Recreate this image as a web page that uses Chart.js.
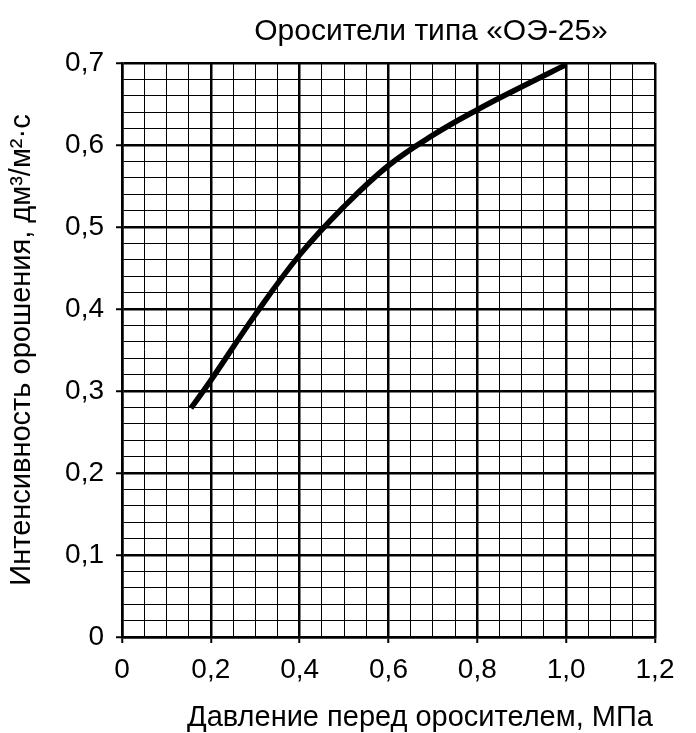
<!DOCTYPE html>
<html>
<head>
<meta charset="utf-8">
<script src="https://cdn.jsdelivr.net/npm/chart.js@4"></script>
<style>
  body { margin: 0; background: #fff; }
  canvas { display: block; }
</style>
</head>
<body>
<canvas id="chart-oe25" width="696" height="733"></canvas>
<script>
// Оросители типа «ОЭ-25» — интенсивность орошения от давления

const davlenie = [0.155, 0.2, 0.3, 0.4, 0.5, 0.6, 0.7, 0.8, 0.9, 1.0];
const intensivnost = [0.279, 0.313, 0.393, 0.466, 0.525, 0.575, 0.612, 0.643, 0.671, 0.698];

const xTickLabels = ['0', '0,2', '0,4', '0,6', '0,8', '1,0', '1,2'];
const yTickLabels = ['0', '0,1', '0,2', '0,3', '0,4', '0,5', '0,6', '0,7'];

const FONT = "'Liberation Sans', Arial, sans-serif";

function majorIndex(v, step) {
  const i = Math.round(v / step);
  return Math.abs(v - i * step) < 1e-6 ? i : -1;
}

// заголовок и подпись оси X сдвинуты вправо, как на оригинале
const textPlugin = {
  id: 'textOE',
  afterDraw(chart) {
    const ctx = chart.ctx;
    ctx.save();
    ctx.fillStyle = '#000';
    ctx.textAlign = 'center';
    ctx.textBaseline = 'alphabetic';
    ctx.font = '30px ' + FONT;
    ctx.fillText('Оросители типа «ОЭ-25»', 431, 40);
    ctx.font = '29px ' + FONT;
    ctx.fillText('Давление перед оросителем, МПа', 420, 726);
    ctx.restore();
  }
};

function gridOpts(step) {
  return {
    color: '#000',
    lineWidth: c => majorIndex(c.tick.value, step) >= 0 ? 2.5 : 1,
    tickLength: 6,
    tickWidth: 2,
    tickColor: c => majorIndex(c.tick.value, step) >= 0 ? '#000' : 'rgba(0,0,0,0)'
  };
}

const ctx = document.getElementById('chart-oe25').getContext('2d');
new Chart(ctx, {
  type: 'line',
  data: {
    datasets: [{
      data: davlenie.map((x, i) => ({ x: x, y: intensivnost[i] })),
      borderColor: '#000',
      borderWidth: 5.5,
      borderCapStyle: 'butt',
      pointRadius: 0,
      tension: 0.4,
      fill: false
    }]
  },
  plugins: [textPlugin],
  options: {
    responsive: false,
    animation: false,
    layout: { padding: { top: 63, right: 41, left: 0, bottom: 0 } },
    plugins: { legend: { display: false }, tooltip: { enabled: false } },
    scales: {
      x: {
        type: 'linear',
        min: 0, max: 1.2,
        grid: gridOpts(0.2),
        border: { display: true, color: '#000', width: 2.5 },
        ticks: {
          stepSize: 0.05,
          autoSkip: false,
          maxRotation: 0,
          padding: 10,
          color: '#000',
          font: { family: FONT, size: 28 },
          callback: v => {
            const i = majorIndex(v, 0.2);
            return i >= 0 ? xTickLabels[i] : '';
          }
        },
        afterFit: s => { s.height = 96; }
      },
      y: {
        min: 0, max: 0.7,
        grid: gridOpts(0.1),
        border: { display: true, color: '#000', width: 2.5 },
        ticks: {
          stepSize: 0.02,
          autoSkip: false,
          padding: 12,
          color: '#000',
          font: { family: FONT, size: 28 },
          callback: v => {
            const i = majorIndex(v, 0.1);
            return i >= 0 ? yTickLabels[i] : '';
          }
        },
        title: {
          display: true,
          text: 'Интенсивность орошения, дм³/м²·с',
          color: '#000',
          font: { family: FONT, size: 29 },
          padding: { top: 5, bottom: 0 }
        },
        afterFit: s => { s.width = 122; }
      }
    }
  }
});
</script>
</body>
</html>
